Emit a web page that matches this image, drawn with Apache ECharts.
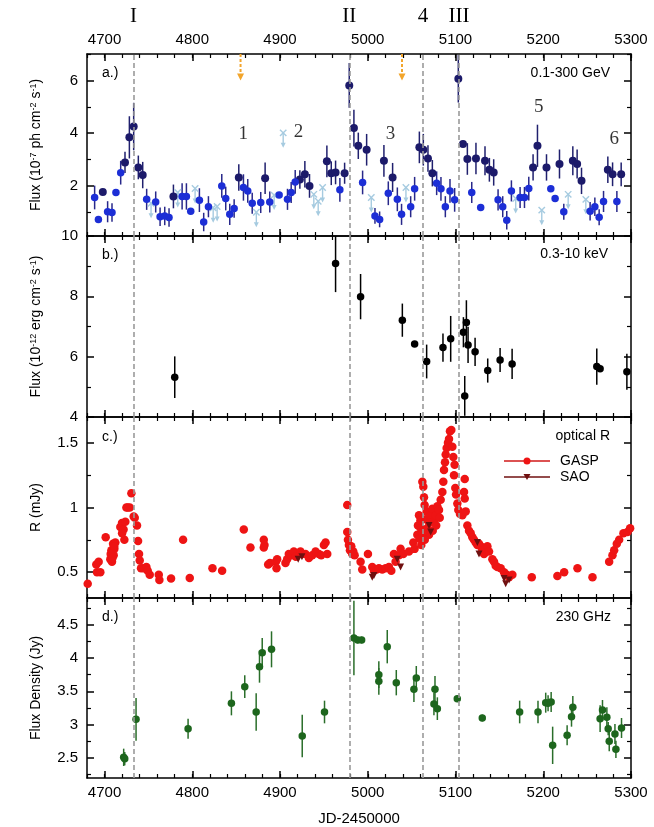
<!DOCTYPE html>
<html>
<head>
<meta charset="utf-8">
<script src="https://cdn.jsdelivr.net/npm/echarts@6/dist/echarts.min.js"></script>
<style>
  html, body { margin: 0; padding: 0; background: #fff; }
  #chart { width: 654px; height: 827px; }
</style>
</head>
<body>
<div id="chart"></div>
<script>
// ---- values; x is JD-2450000 ----
// a.) Fermi 0.1-300 GeV, [jd, flux, err]
var fermiDark = [[4698,1.77,0.08],[4723.3,2.89,0.4],[4728.3,3.84,0.8],[4733.2,4.25,0.9],[4738.5,2.70,0.45],
  [4743.5,2.41,0.5],[4778.5,1.60,0.45],[4853,2.32,0.5],[4883,2.29,0.6],[4922.6,2.24,0.35],
  [4928.3,2.44,0.5],[4933.6,2.00,0.45],[4953.4,2.93,0.6],[4958.4,2.48,0.45],[4963.3,2.51,0.45],
  [4973.6,2.48,0.4],[4978.9,5.81,0.85],[4984.2,4.19,0.7],[4989.2,3.52,0.5],[4998.7,3.37,0.6],
  [5018.4,2.95,0.6],[5028.3,2.32,0.55],[5058.8,3.46,0.6],[5063.3,3.37,0.6],[5068.6,3.04,0.5],
  [5073.6,2.48,0.5],[5103.2,6.06,0.9],[5108.5,3.59,0.05],[5113.5,3.02,0.6],[5123.3,3.04,0.6],
  [5133.6,2.95,0.55],[5138.6,2.61,0.45],[5143.5,2.51,0.5],[5188.4,2.70,0.5],[5193.4,3.52,0.8],
  [5203.7,2.70,0.5],[5218.5,2.83,0.55],[5233.7,2.95,0.55],[5238.6,2.83,0.55],[5243.6,2.19,0.5],
  [5273.6,2.61,0.5],[5279,2.44,0.45],[5288.8,2.44,0.45]];
var fermiBlue = [[4688.7,1.56,0.45],[4693,0.73,0.05],[4703.5,1.02,0.4],[4708.5,0.99,0.35],[4713,1.75,0.05],
  [4718.4,2.50,0.45],[4748,1.49,0.4],[4758.3,1.39,0.4],[4763.3,0.83,0.35],[4768.6,0.86,0.35],
  [4773.5,0.80,0.35],[4788.4,1.60,0.5],[4793.3,1.60,0.5],[4798.2,1.04,0.05],[4808.1,1.46,0.45],
  [4813,0.63,0.35],[4818.4,1.21,0.4],[4833.6,2.00,0.45],[4838.1,1.52,0.45],[4842.7,0.92,0.4],
  [4847.7,1.14,0.35],[4858.3,1.94,0.5],[4863.2,1.81,0.45],[4868.3,1.34,0.4],[4878,1.37,0.4],
  [4888.3,1.39,0.4],[4899,1.65,0.05],[4908.5,1.49,0.4],[4912.7,1.75,0.4],[4917.3,2.15,0.45],
  [4968.2,1.85,0.45],[4994.1,2.13,0.45],[5008.2,0.86,0.3],[5013.5,0.73,0.3],[5023.4,1.72,0.45],
  [5033.7,1.49,0.45],[5038.5,0.92,0.4],[5048.9,1.21,0.4],[5053.4,1.89,0.45],[5078.5,2.10,0.45],
  [5083.4,1.89,0.45],[5088.4,1.21,0.4],[5093.7,1.81,0.45],[5099,1.47,0.45],[5118.5,1.75,0.4],
  [5128.7,1.18,0.05],[5148.5,1.47,0.4],[5153.8,1.21,0.4],[5158.4,0.70,0.35],[5163.7,1.81,0.4],
  [5173.6,1.56,0.4],[5178.6,1.56,0.4],[5183.5,1.90,0.45],[5208.6,1.89,0.05],[5213.5,1.52,0.05],
  [5223.4,1.02,0.3],[5253.4,1.04,0.35],[5258.8,1.21,0.35],[5263.7,0.81,0.3],[5268.7,1.41,0.4],
  [5283.9,1.41,0.4]];
var fermiUL = [[4753,1.34],[4783.4,1.75],[4803.2,1.90],[4823.8,1.17],[4828.3,1.22],[4873,1.0],
  [4893.3,1.65],[4903.6,4.01],[4938.5,1.68],[4943.5,1.42],[4948.5,1.94],[5004,1.56],[5043.5,1.94],
  [5168.6,1.52],[5198.3,1.08],[5228.4,1.68],[5248.5,1.49]];
var fermiUL2 = [[4855,6.0],[5039,6.0]];
var flareNames = ['1', '2', '3', '5', '6'];
var flarePos = [[4858,3.97],[4921,4.05],[5026,3.97],[5195,5.0],[5281,3.77]];

// b.) X-ray 0.3-10 keV
var xray = [[4780,5.32,0.69],[4963.3,9.09,0.95],[4991.8,7.99,0.75],[5039.4,7.21,0.55],[5053.4,6.42,0.08],
  [5067.1,5.84,0.56],[5085.7,6.30,0.47],[5094.5,6.59,0.76],[5109,6.81,0.5],[5110.5,4.70,0.66],
  [5112.4,7.13,0.74],[5114.3,6.39,0.6],[5122.3,6.16,0.47],[5136.7,5.54,0.4],[5150.8,5.89,0.4],
  [5164.5,5.76,0.5],[5261,5.67,0.6],[5264.8,5.60,0.1],[5295.3,5.50,0.6]];

// c.) optical R
var gasp = [[4680.8,0.41],[4690.6,0.56],[4691.4,0.50],[4693.3,0.58],[4695.2,0.50],[4701.3,0.77],
  [4706.6,0.60],[4707.8,0.67],[4708.5,0.58],[4709.7,0.72],[4710.4,0.63],[4711.2,0.68],[4712.3,0.73],
  [4707,0.64],[4709,0.61],[4711,0.70],
  [4718,0.85],[4719.9,0.88],[4721.7,0.83],[4723.7,0.89],[4722.6,0.75],[4720,0.80],[4724.9,1.00],[4728.7,1.00],
  [4726.5,1.00],[4730.6,1.11],[4733.2,0.93],[4734.4,0.92],[4737,0.86],[4738.2,0.74],[4739.3,0.64],[4740.1,0.59],
  [4741.6,0.53],[4744.6,0.53],[4747.7,0.54],[4749.2,0.51],[4751.5,0.48],[4761.8,0.48],[4762.5,0.44],
  [4775.8,0.45],[4789.5,0.75],[4797.1,0.455],[4823,0.53],[4834,0.51],[4858.7,0.83],[4866.3,0.69],
  [4881.5,0.75],[4882.3,0.71],[4881.5,0.69],[4886.5,0.56],[4888.4,0.57],[4895.2,0.58],[4896,0.53],
  [4896.7,0.60],[4906.2,0.57],[4908.1,0.60],[4910,0.64],[4912.7,0.63],[4915.7,0.66],[4918,0.62],
  [4923.3,0.66],[4925.2,0.64],[4929,0.64],[4932.9,0.61],[4936.7,0.63],[4940.5,0.66],[4944.3,0.64],
  [4946.9,0.63],[4950,0.71],[4951.9,0.73],[4953.8,0.64],
  [4976.6,1.02],[4976.6,0.81],[4977.4,0.75],[4978.5,0.71],[4979.7,0.67],[4981.2,0.70],[4983.5,0.66],
  [4985,0.63],[4982.3,0.64],[4991.8,0.58],[4993.7,0.52],[5000.2,0.64],[5005.1,0.54],[5007,0.51],
  [5010.1,0.52],[5012.7,0.53],[5016.5,0.52],[5020.3,0.53],[5024.1,0.54],[5026.8,0.51],[5029.8,0.64],
  [5031.7,0.58],[5035.5,0.63],[5037.4,0.68],[5040.5,0.64],[5046.9,0.66],[5051.9,0.73],[5053.4,0.68],
  [5056.5,0.79],[5057.2,0.86],[5058.4,0.94],[5060.3,0.84],[5061,0.71],[5059,0.76],[5060,0.90],
  [5062.2,1.20],[5063.3,1.16],[5064.1,1.08],[5064.8,1.02],[5066,0.91],[5067.1,0.97],[5067.9,0.84],
  [5069.8,0.79],[5071.7,0.94],[5073.6,0.99],[5075.5,0.89],[5077.4,0.94],[5079.3,1.01],[5081.2,0.98],
  [5083.1,1.06],[5085,1.12],[5062,0.80],[5065,0.75],[5070,0.88],[5074,0.82],[5078,0.86],[5082,0.92],
  [5086.1,1.20],[5086.9,1.29],[5088,1.35],[5088.8,1.41],[5089.9,1.46],[5091.4,1.50],[5092.6,1.53],
  [5093.7,1.59],[5095.2,1.60],[5096.4,1.47],[5097.5,1.39],[5099,1.33],[5098.3,1.25],[5099.8,1.15],
  [5100.6,1.10],[5102.1,1.03],[5103.2,0.98],[5105.1,0.95],[5107.8,0.94],[5110.5,1.22],[5109.7,1.12],
  [5110.5,1.07],[5111.6,0.97],[5113.5,0.86],[5115.4,0.82],[5117.3,0.80],[5119.2,0.77],[5121.1,0.75],
  [5123,0.73],[5124.9,0.71],[5126.8,0.72],[5128.7,0.70],[5130.6,0.67],[5132.5,0.64],[5134.4,0.68],
  [5136.3,0.70],[5138.2,0.66],[5142,0.60],[5143.9,0.58],[5145.8,0.55],[5147.7,0.54],[5151.5,0.53],
  [5155.3,0.50],[5158.4,0.48],[5161,0.46],[5164.8,0.48],[5186.9,0.46],[5216.1,0.47],[5223.8,0.50],
  [5239,0.53],[5256.1,0.46],[5275.1,0.58],[5278.9,0.63],[5280.8,0.67],[5283.8,0.72],[5286.5,0.75],
  [5291.4,0.80],[5296,0.81],[5299,0.84]];
var sao = [[4920.7,0.60],[4925,0.62],[5005.1,0.46],[5007,0.475],[5033.6,0.60],[5037.4,0.54],
  [5069.8,0.86],[5071.7,0.81],[5124.9,0.73],[5126.8,0.64],[5155.3,0.45],[5157.2,0.41],[5161,0.44]];

// d.) 230 GHz
var sma = [[4721.8,2.51,0.13],[4723,2.49,0.1],[4735.9,3.08,0.32],[4795.2,2.94,0.15],[4844.6,3.32,0.18],
  [4859.8,3.57,0.17],[4872.8,3.19,0.28],[4876.6,3.87,0.24],[4879.7,4.08,0.22],[4890.3,4.13,0.27],
  [4925.3,2.83,0.32],[4950.7,3.19,0.17],[4984.2,4.30,0.56],[4988.5,4.27,0.05],[4993,4.27,0.05],
  [5012.6,3.75,0.2],[5012.6,3.65,0.2],[5022.2,4.17,0.25],[5032.5,3.63,0.19],[5052.6,3.53,0.19],
  [5055.3,3.70,0.18],[5075.4,3.31,0.17],[5076.6,3.53,0.2],[5079.3,3.24,0.17],[5102,3.39,0.05],
  [5130.5,3.10,0.05],[5173.1,3.19,0.17],[5194,3.19,0.17],[5202.8,3.33,0.15],[5205.5,3.32,0.12],
  [5209,3.34,0.15],[5210.7,2.69,0.28],[5227.2,2.84,0.15],[5232.2,3.12,0.15],[5233.7,3.26,0.17],
  [5264.8,3.09,0.2],[5267.5,3.22,0.15],[5272.5,3.11,0.15],[5274,2.94,0.1],[5275.2,2.75,0.15],
  [5281.7,2.86,0.15],[5282.8,2.63,0.13],[5289.2,2.95,0.15]];

// flare epochs (dashed lines)
var flareLines = [4733, 4979, 5063, 5104];
var flareLineNames = ['I', 'II', '4', 'III'];

// axes
var xMin = 4680, xMax = 5300;
var xMajor = [4700, 4800, 4900, 5000, 5100, 5200, 5300];
var xMinor = [];
for (var t = 4680; t <= 5300; t += 20) xMinor.push(t);
var yMin = [0.1, 4, 0.3, 2.2];
var yMax = [7, 10, 1.7, 4.9];
var yMajor = [[2, 4, 6], [4, 6, 8, 10], [0.5, 1, 1.5], [2.5, 3, 3.5, 4, 4.5]];
var yMinorT = [[1, 3, 5, 7], [5, 7, 9], [0.75, 1.25], [2.25, 2.75, 3.25, 3.75, 4.25, 4.75]];
var yNames = ['Flux (10{s|-7} ph cm{s|-2} s{s|-1})', 'Flux (10{s|-12} erg cm{s|-2} s{s|-1})',
  'R (mJy)', 'Flux Density (Jy)'];

var FONT = 'Liberation Sans';
var gridTops = [54, 236, 417, 598];
var gridHeights = [182, 181, 181, 180];
var plain = function (v) { return String(v); };

var grids = [], xAxes = [], yAxes = [];
for (var g = 0; g < 4; g++) {
  grids.push({left: 87, right: 23, top: gridTops[g], height: gridHeights[g]});
  ['bottom', 'top'].forEach(function (pos) {
    var showLab = (pos === 'top' && g === 0) || (pos === 'bottom' && g === 3);
    xAxes.push({
      type: 'value', gridIndex: g, position: pos, min: xMin, max: xMax,
      axisLine: {show: true, onZero: false, lineStyle: {color: '#000', width: 1.5}},
      axisTick: {show: true, inside: true, length: 7, customValues: xMajor, lineStyle: {color: '#000', width: 1.5}},
      axisLabel: {show: showLab, customValues: xMajor, formatter: plain, color: '#000',
        fontFamily: FONT, fontSize: 15, margin: 7},
      splitLine: {show: false},
      name: (g === 3 && pos === 'bottom') ? 'JD-2450000' : '',
      nameLocation: 'middle', nameGap: 33,
      nameTextStyle: {color: '#000', fontFamily: FONT, fontSize: 15}
    });
    xAxes.push({
      type: 'value', gridIndex: g, position: pos, min: xMin, max: xMax,
      axisLine: {show: false},
      axisTick: {show: true, inside: true, length: 4, customValues: xMinor, lineStyle: {color: '#000', width: 1.2}},
      axisLabel: {show: false}, splitLine: {show: false}
    });
  });
  ['left', 'right'].forEach(function (pos) {
    var left = pos === 'left';
    yAxes.push({
      type: 'value', gridIndex: g, position: pos, min: yMin[g], max: yMax[g],
      axisLine: {show: true, onZero: false, lineStyle: {color: '#000', width: 1.5}},
      axisTick: {show: true, inside: true, length: 7, customValues: yMajor[g], lineStyle: {color: '#000', width: 1.5}},
      axisLabel: {show: left, customValues: yMajor[g], formatter: plain, color: '#000',
        fontFamily: FONT, fontSize: 15, margin: 9},
      splitLine: {show: false},
      name: left ? yNames[g] : '',
      nameLocation: 'middle', nameGap: 44, nameRotate: 90,
      nameTextStyle: {color: '#000', fontFamily: FONT, fontSize: 14,
        rich: {s: {fontSize: 9, verticalAlign: 'top', color: '#000', fontFamily: FONT}}}
    });
    yAxes.push({
      type: 'value', gridIndex: g, position: pos, min: yMin[g], max: yMax[g],
      axisLine: {show: false},
      axisTick: {show: true, inside: true, length: 4, customValues: yMinorT[g], lineStyle: {color: '#000', width: 1.2}},
      axisLabel: {show: false}, splitLine: {show: false}
    });
  });
}

function errorBars(color) {
  return function (params, api) {
    var x = api.value(0), y = api.value(1), e = api.value(2);
    var a = api.coord([x, y - e]), b = api.coord([x, y + e]);
    return {type: 'line', shape: {x1: a[0], y1: a[1], x2: b[0], y2: b[1]},
      style: {stroke: color, lineWidth: 1.5}};
  };
}

function vLines(g) {
  return {
    silent: true, symbol: 'none',
    lineStyle: {color: '#9a9a9a', type: [5, 3], width: 1.6},
    label: g === 0 ? {show: true, position: 'end', distance: 27, formatter: '{b}', color: '#000',
      fontFamily: 'Liberation Serif', fontSize: 21} : {show: false},
    data: flareLines.map(function (v, i) { return {xAxis: v, name: flareLineNames[i]}; })
  };
}

var ulLight = '#a6cbe0';
var ulOrange = '#f2a52c';

var series = [
  // ---- a.) ----
  {type: 'custom', xAxisIndex: 0, yAxisIndex: 0, data: fermiDark, encode: {x: 0, y: 1}, clip: true,
    renderItem: errorBars('#20206e'), z: 2, markLine: vLines(0)},
  {type: 'custom', xAxisIndex: 0, yAxisIndex: 0, data: fermiBlue, encode: {x: 0, y: 1}, clip: true,
    renderItem: errorBars('#28288a'), z: 2},
  {type: 'custom', xAxisIndex: 0, yAxisIndex: 0, data: fermiUL, encode: {x: 0, y: 1}, clip: true, z: 2,
    renderItem: function (params, api) {
      var p = api.coord([api.value(0), api.value(1)]);
      var s = 3.2, st = {stroke: ulLight, lineWidth: 1.4};
      return {type: 'group', children: [
        {type: 'line', shape: {x1: p[0] - s, y1: p[1] - s, x2: p[0] + s, y2: p[1] + s}, style: st},
        {type: 'line', shape: {x1: p[0] - s, y1: p[1] + s, x2: p[0] + s, y2: p[1] - s}, style: st},
        {type: 'line', shape: {x1: p[0], y1: p[1], x2: p[0], y2: p[1] + 12}, style: st},
        {type: 'polygon', shape: {points: [[p[0] - 2.5, p[1] + 10], [p[0] + 2.5, p[1] + 10], [p[0], p[1] + 15]]},
          style: {fill: ulLight}}
      ]};
    }},
  {type: 'custom', xAxisIndex: 0, yAxisIndex: 0, data: fermiUL2, encode: {x: 0, y: 1}, z: 3,
    renderItem: function (params, api) {
      var top = api.coord([api.value(0), yMax[0]]);
      var tip = api.coord([api.value(0), api.value(1)]);
      return {type: 'group', children: [
        {type: 'line', shape: {x1: top[0], y1: top[1], x2: tip[0], y2: tip[1] - 5},
          style: {stroke: ulOrange, lineWidth: 2, lineDash: [3, 2]}},
        {type: 'polygon', shape: {points: [[tip[0] - 3.5, tip[1] - 7], [tip[0] + 3.5, tip[1] - 7], [tip[0], tip[1]]]},
          style: {fill: ulOrange}}
      ]};
    }},
  {type: 'scatter', xAxisIndex: 0, yAxisIndex: 0, data: fermiDark, symbolSize: 8,
    itemStyle: {color: '#1c1a6a', opacity: 1}, z: 4},
  {type: 'scatter', xAxisIndex: 0, yAxisIndex: 0, data: fermiBlue, symbolSize: 7.5,
    itemStyle: {color: '#1c2ed6', opacity: 1}, z: 4},
  {type: 'scatter', xAxisIndex: 0, yAxisIndex: 0, symbolSize: 1, itemStyle: {color: 'rgba(0,0,0,0)'},
    data: flarePos.map(function (p, i) { return {value: p, name: flareNames[i]}; }),
    label: {show: true, position: 'inside', formatter: '{b}', color: '#000',
      fontFamily: 'Liberation Serif', fontSize: 19}, z: 5},
  // ---- b.) ----
  {type: 'custom', xAxisIndex: 4, yAxisIndex: 4, data: xray, encode: {x: 0, y: 1}, clip: true,
    renderItem: errorBars('#000'), z: 2, markLine: vLines(1)},
  {type: 'scatter', xAxisIndex: 4, yAxisIndex: 4, data: xray, symbolSize: 7.5,
    itemStyle: {color: '#000', opacity: 1}, z: 4},
  // ---- c.) ----
  {type: 'scatter', xAxisIndex: 8, yAxisIndex: 8, data: gasp, symbolSize: 8.5,
    itemStyle: {color: '#ee1414', opacity: 1}, z: 3, markLine: vLines(2)},
  {type: 'scatter', xAxisIndex: 8, yAxisIndex: 8, data: sao, symbol: 'triangle', symbolRotate: 180,
    symbolSize: 7, itemStyle: {color: '#701010', opacity: 1}, z: 4},
  // ---- d.) ----
  {type: 'custom', xAxisIndex: 12, yAxisIndex: 12, data: sma, encode: {x: 0, y: 1}, clip: true,
    renderItem: errorBars('#2a6e2a'), z: 2, markLine: vLines(3)},
  {type: 'scatter', xAxisIndex: 12, yAxisIndex: 12, data: sma, symbolSize: 7.5,
    itemStyle: {color: '#1d661d', opacity: 1}, z: 4}
];

function txt(x, y, s, align) {
  return {type: 'text', x: x, y: y, z: 100,
    style: {text: s, fill: '#000', font: '14px "' + FONT + '"', textAlign: align || 'left', textVerticalAlign: 'middle'}};
}

var graphic = [
  txt(102, 73, 'a.)'), txt(102, 255, 'b.)'), txt(102, 437, 'c.)'), txt(102, 617, 'd.)'),
  txt(610, 73, '0.1-300 GeV', 'right'), txt(608, 254, '0.3-10 keV', 'right'),
  txt(610, 436, 'optical R', 'right'), txt(611, 617, '230 GHz', 'right'),
  // legend for panel c
  {type: 'line', shape: {x1: 504, y1: 461, x2: 550, y2: 461}, style: {stroke: '#d01818', lineWidth: 1.5}, z: 100},
  {type: 'circle', shape: {cx: 527, cy: 461, r: 3.5}, style: {fill: '#ee1414'}, z: 101},
  txt(560, 461, 'GASP'),
  {type: 'line', shape: {x1: 504, y1: 477, x2: 550, y2: 477}, style: {stroke: '#701010', lineWidth: 1.5}, z: 100},
  {type: 'polygon', shape: {points: [[523.5, 474], [530.5, 474], [527, 480]]}, style: {fill: '#701010'}, z: 101},
  txt(560, 477, 'SAO')
];

var chart = echarts.init(document.getElementById('chart'));
chart.setOption({
  animation: false,
  backgroundColor: '#fff',
  grid: grids,
  xAxis: xAxes,
  yAxis: yAxes,
  series: series,
  graphic: graphic
});
</script>
</body>
</html>
